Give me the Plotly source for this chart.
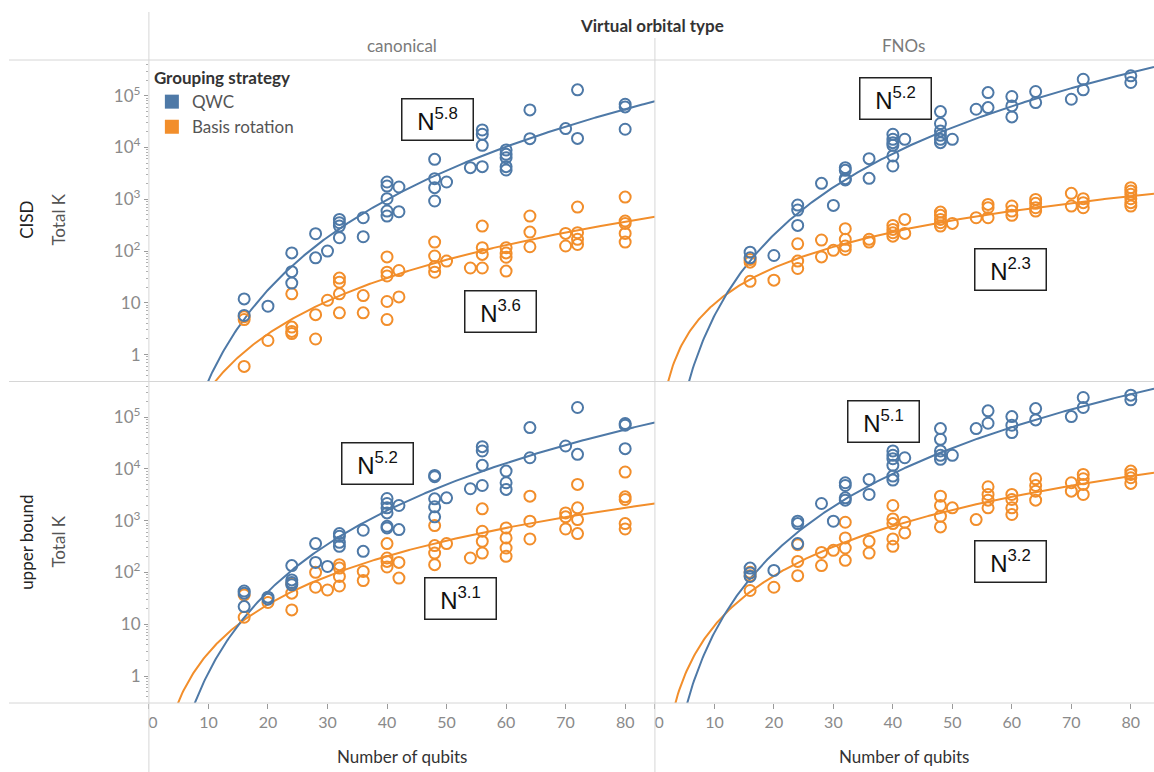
import numpy as np
import plotly.graph_objects as go

W, H = 1154, 772
BLUE = "#4e79a7"
ORANGE = "#f28e2b"
FONT = "Lato"

# ---------------- data ----------------
columns = ["canonical", "FNOs"]
rows = ["CISD", "upper bound"]
groups = ["QWC", "Basis rotation"]
x_ticks = [0, 10, 20, 30, 40, 50, 60, 70, 80]
y_tickvals = [1, 10, 100, 1000, 10000, 100000]
y_ticktext = ["1", "10", "10<sup>2</sup>", "10<sup>3</sup>", "10<sup>4</sup>", "10<sup>5</sup>"]

# CISD / canonical
cisd_can_qwc_x = [16, 16, 20, 24, 24, 24, 28, 28, 30, 32, 32, 32, 32, 36, 36, 40, 40, 40, 40, 40, 42, 42,
                  48, 48, 48, 48, 50, 54, 56, 56, 56, 56, 60, 60, 60, 60, 60, 64, 64, 70, 72, 72, 80, 80, 80]
cisd_can_qwc_y = [11.9, 5.7, 8.6, 92, 40, 24, 216, 74, 100, 408, 352, 303, 181, 440, 189, 2155, 1800, 1025,
                  592, 474, 1725, 575, 5910, 2500, 1675, 925, 2155, 4080, 21800, 18000, 11000, 4270, 8960,
                  7380, 6370, 4270, 3680, 53200, 14800, 23200, 130000, 15000, 68500, 60800, 22500]
cisd_can_br_x = [16, 16, 16, 20, 24, 24, 24, 24, 28, 28, 30, 32, 32, 32, 32, 36, 36, 40, 40, 40, 40, 40, 42,
                 42, 48, 48, 48, 48, 50, 54, 56, 56, 56, 56, 60, 60, 60, 60, 64, 64, 64, 70, 70, 72, 72, 72,
                 72, 80, 80, 80, 80, 80]
cisd_can_br_y = [5.4, 4.75, 0.59, 1.87, 14.9, 3.4, 2.8, 2.55, 5.9, 2.0, 11.2, 30, 25, 14.9, 6.4, 13.8, 6.4,
                 77, 39, 33, 10.6, 4.75, 42, 13, 149, 80, 50, 39, 64, 47, 303, 116, 86, 47, 116, 92, 76, 41,
                 474, 232, 121, 219, 125, 708, 226, 168, 134, 1100, 380, 342, 219, 149]

# CISD / FNOs
cisd_fno_qwc_x = [16, 16, 20, 24, 24, 24, 28, 30, 32, 32, 32, 32, 36, 36, 40, 40, 40, 40, 40, 40, 42, 48, 48,
                  48, 48, 48, 48, 50, 54, 56, 56, 60, 60, 60, 64, 64, 70, 72, 72, 80, 80]
cisd_fno_qwc_y = [95, 74, 82, 773, 619, 313, 2030, 762, 4080, 3620, 2500, 2355, 6090, 2535, 18000, 14400,
                  12400, 11000, 6860, 4400, 14400, 49400, 29000, 20900, 17200, 14400, 12400, 14400, 54800,
                  115000, 59000, 96400, 63600, 39000, 120500, 73800, 85500, 208000, 130000, 242000, 180000]
cisd_fno_br_x = [16, 16, 16, 20, 24, 24, 24, 28, 28, 30, 32, 32, 32, 32, 36, 36, 40, 40, 40, 40, 42, 42, 48,
                 48, 48, 48, 48, 50, 54, 56, 56, 56, 60, 60, 60, 64, 64, 64, 64, 70, 70, 72, 72, 72, 80, 80,
                 80, 80, 80, 80]
cisd_fno_br_y = [69, 61, 26, 27.4, 138, 64, 46, 163, 77, 103, 270, 168, 125, 107, 168, 149, 313, 262, 226,
                 194, 408, 219, 566, 489, 408, 352, 303, 342, 440, 796, 687, 440, 740, 592, 489, 995, 834,
                 687, 592, 1300, 740, 1025, 859, 687, 1675, 1440, 1245, 1025, 859, 740]

# upper bound / canonical
ub_can_qwc_x = [16, 16, 16, 20, 20, 24, 24, 24, 24, 28, 28, 30, 32, 32, 32, 32, 36, 36, 40, 40, 40, 40, 40,
                40, 42, 42, 48, 48, 48, 48, 48, 50, 54, 56, 56, 56, 56, 60, 60, 60, 64, 64, 70, 72, 72, 80,
                80, 80]
ub_can_qwc_y = [44, 40, 22, 33.5, 30.6, 136, 72, 64, 58, 362, 157, 131, 565, 501, 384, 321, 656, 257, 2690,
                2155, 1775, 1420, 784, 727, 1970, 675, 7520, 7080, 2655, 1856, 1190, 2773, 4150, 27000,
                22250, 11750, 4800, 9120, 5420, 4030, 63000, 16500, 27800, 154000, 19200, 75400, 70000,
                24700]
ub_can_br_x = [16, 16, 20, 24, 24, 24, 28, 28, 30, 32, 32, 32, 32, 36, 36, 40, 40, 40, 40, 42, 42, 48, 48,
               48, 48, 50, 54, 56, 56, 56, 56, 60, 60, 60, 60, 64, 64, 64, 70, 70, 70, 72, 72, 72, 72, 80,
               80, 80, 80, 80]
ub_can_br_y = [37, 13.7, 26.4, 61, 40, 19, 101, 52, 46, 142, 122, 84, 55, 105, 70, 362, 191, 164, 128, 157,
               78, 807, 331, 238, 142, 362, 191, 1698, 627, 401, 238, 727, 466, 298, 206, 2990, 980, 445,
               1420, 1190, 695, 5030, 1775, 1055, 565, 8730, 2900, 2575, 883, 695]

# upper bound / FNOs
ub_fno_qwc_x = [16, 16, 16, 20, 24, 24, 24, 28, 30, 32, 32, 32, 32, 36, 36, 40, 40, 40, 40, 40, 40, 42, 48,
                48, 48, 48, 48, 50, 54, 56, 56, 60, 60, 60, 64, 64, 70, 72, 72, 80, 80]
ub_fno_qwc_y = [122, 98, 84, 110, 980, 883, 362, 2155, 980, 5420, 4800, 2773, 2500, 6290, 3220, 22300,
                18400, 15800, 11750, 7300, 6110, 16500, 60300, 37500, 22300, 18400, 15350, 18400, 60300,
                133000, 76500, 103000, 70000, 50500, 147000, 88800, 103000, 240000, 154000, 267000, 217000]
ub_fno_br_x = [16, 16, 16, 20, 24, 24, 24, 28, 28, 30, 32, 32, 32, 32, 36, 36, 40, 40, 40, 40, 40, 42, 42,
               48, 48, 48, 48, 50, 54, 56, 56, 56, 56, 60, 60, 60, 60, 64, 64, 64, 64, 70, 70, 72, 72, 72,
               72, 80, 80, 80, 80]
ub_fno_br_y = [101, 87, 45, 52, 346, 164, 87, 245, 136, 269, 937, 466, 298, 172, 401, 238, 1970, 1087, 883,
               445, 321, 937, 582, 2990, 1970, 1225, 760, 1775, 1055, 4530, 3220, 2500, 1775, 3220, 2575,
               1775, 1320, 6470, 4800, 3730, 2500, 5420, 3730, 7850, 6470, 5030, 3220, 9120, 7850, 6780,
               5260]

# power-law trend lines  K = K80 * (N/80)^p   (exponent shown in the boxes)
fit_exponent = {"cisd_can_qwc": 5.8, "cisd_can_br": 3.6, "cisd_fno_qwc": 5.2, "cisd_fno_br": 2.3,
                "ub_can_qwc": 5.2, "ub_can_br": 3.1, "ub_fno_qwc": 5.1, "ub_fno_br": 3.2}
fit_value_at_80 = {"cisd_can_qwc": 5.5e4, "cisd_can_br": 369, "cisd_fno_qwc": 2.8e5, "cisd_fno_br": 1150,
                   "ub_can_qwc": 5.8e4, "ub_can_br": 1780, "ub_fno_qwc": 2.8e5, "ub_fno_br": 7300}

# ---------------- geometry (pixels) ----------------
col_px = [(141, 651), (651, 1154)]
row_px = [(60, 381.5), (381.5, 703)]
x_ranges = [[0, 85], [0, (1154 - 651.8) / 5.986]]
y_range = [-0.52, 5.69]


def px_x(p):
    return p / W


def px_y(p):
    return 1 - p / H


panels = [
    (0, 0, "cisd_can", cisd_can_qwc_x, cisd_can_qwc_y, cisd_can_br_x, cisd_can_br_y),
    (0, 1, "cisd_fno", cisd_fno_qwc_x, cisd_fno_qwc_y, cisd_fno_br_x, cisd_fno_br_y),
    (1, 0, "ub_can", ub_can_qwc_x, ub_can_qwc_y, ub_can_br_x, ub_can_br_y),
    (1, 1, "ub_fno", ub_fno_qwc_x, ub_fno_qwc_y, ub_fno_br_x, ub_fno_br_y),
]

fig = go.Figure()
layout_axes = {}
for idx, (r, c, key, qx, qy, bx, by) in enumerate(panels):
    n = idx + 1
    xa = "x" if n == 1 else f"x{n}"
    ya = "y" if n == 1 else f"y{n}"
    xname = "xaxis" if n == 1 else f"xaxis{n}"
    yname = "yaxis" if n == 1 else f"yaxis{n}"
    xmax = x_ranges[c][1]
    xs = np.linspace(0.5, xmax, 400)
    for g, color in enumerate([ORANGE, BLUE]):
        gk = key + ("_br" if g == 0 else "_qwc")
        p = fit_exponent[gk]
        k80 = fit_value_at_80[gk]
        fig.add_trace(go.Scatter(x=xs, y=k80 * (xs / 80.0) ** p, mode="lines",
                                 line=dict(color=color, width=2), xaxis=xa, yaxis=ya,
                                 showlegend=False, hoverinfo="skip"))
    for gx, gy, color, name in [(bx, by, ORANGE, groups[1]), (qx, qy, BLUE, groups[0])]:
        fig.add_trace(go.Scatter(x=gx, y=gy, mode="markers", name=name,
                                 marker=dict(symbol="circle-open", size=11, color=color,
                                             line=dict(width=2, color=color)),
                                 xaxis=xa, yaxis=ya, showlegend=False))
    bottom = r == 1
    left = c == 0
    layout_axes[xname] = dict(
        domain=[px_x(col_px[c][0]), px_x(col_px[c][1])], range=x_ranges[c], anchor=ya,
        showgrid=False, zeroline=False, showline=False,
        tickvals=x_ticks, ticktext=["  0"] + [str(v) for v in x_ticks[1:]],
        ticks="outside" if bottom else "", ticklen=5, tickcolor="#9a9a9a",
        showticklabels=bottom, tickfont=dict(family=FONT, size=16, color="#8a8a8a"),
        fixedrange=True)
    layout_axes[yname] = dict(
        domain=[px_y(row_px[r][1]), px_y(row_px[r][0])], range=y_range, type="log", anchor=xa,
        showgrid=False, zeroline=False, showline=False,
        tickvals=y_tickvals, ticktext=y_ticktext,
        ticks="outside" if left else "", ticklen=4, tickcolor="#9a9a9a",
        showticklabels=left, tickfont=dict(family=FONT, size=17, color="#8a8a8a"),
        minor=dict(ticks="outside" if left else "", ticklen=2, tickcolor="#b0b0b0", dtick="D1",
                   showgrid=False),
        fixedrange=True)

# legend entries (square swatches)
for name, color in [(groups[0], BLUE), (groups[1], ORANGE)]:
    fig.add_trace(go.Scatter(x=[None], y=[None], mode="markers", name=name,
                             marker=dict(symbol="square", size=14, color=color),
                             xaxis="x", yaxis="y", showlegend=True))

# frame lines
LC = "#d6d6d6"
shapes = []
for yy in [60, 381.5, 703]:
    shapes.append(dict(type="line", xref="paper", yref="paper", x0=0, x1=1, y0=px_y(yy), y1=px_y(yy),
                       line=dict(color=LC, width=1)))
shapes.append(dict(type="line", xref="paper", yref="paper", x0=px_x(141), x1=px_x(141), y0=px_y(12),
                   y1=0, line=dict(color=LC, width=1)))
shapes.append(dict(type="line", xref="paper", yref="paper", x0=px_x(651), x1=px_x(651), y0=px_y(38),
                   y1=0, line=dict(color=LC, width=1)))

ann = []


def text(x, y, s, size=15, color="#333333", bold=False, angle=0):
    ann.append(dict(x=px_x(x), y=px_y(y), xref="paper", yref="paper", showarrow=False,
                    text=f"<b>{s}</b>" if bold else s, textangle=angle,
                    font=dict(family=FONT, size=size, color=color),
                    xanchor="center", yanchor="middle"))


text(648, 25, "Virtual orbital type", 17, "#333333", bold=True)
text(396, 46, columns[0], 17, "#7a7a7a")
text(902, 46, columns[1], 17, "#7a7a7a")
text(17, 220, rows[0], 17, "#222222", angle=-90)
text(49, 220, "Total K", 17, "#555555", angle=-90)
text(17, 542, rows[1], 17, "#222222", angle=-90)
text(49, 542, "Total K", 17, "#555555", angle=-90)
text(396, 756, "Number of qubits", 17, "#333333")
text(902, 756, "Number of qubits", 17, "#333333")

# exponent boxes
boxes = [(432, 119.5, "5.8"), (495, 311, "3.6"), (893.5, 98.7, "5.2"), (1009.3, 269.5, "2.3"),
         (371, 463, "5.2"), (455.5, 598, "3.1"), (881, 421.5, "5.1"), (1009.3, 561, "3.2")]
for bx_, by_, e in boxes:
    ann.append(dict(x=px_x(bx_), y=px_y(by_), xref="paper", yref="paper", showarrow=False,
                    text=f"N<sup>{e}</sup>", font=dict(family="Liberation Sans", size=24, color="#111111"),
                    bordercolor="#222222", borderwidth=1.5, bgcolor="white", borderpad=0,
                    width=70, height=40, align="center", valign="middle",
                    xanchor="center", yanchor="middle"))

fig.update_layout(
    width=W, height=H, margin=dict(l=0, r=0, t=0, b=0),
    paper_bgcolor="white", plot_bgcolor="white",
    shapes=shapes, annotations=ann,
    legend=dict(x=px_x(144), y=px_y(62), xanchor="left", yanchor="top",
                title=dict(text="<b>Grouping strategy</b>", font=dict(family=FONT, size=17, color="#333333")),
                font=dict(family=FONT, size=17, color="#555555"), bgcolor="rgba(0,0,0,0)",
                itemwidth=30, tracegroupgap=0),
    **layout_axes,
)

fig.write_html("out.html", config={"displayModeBar": False},
               post_script="document.body.style.margin='0px';document.body.style.overflow='hidden';")
